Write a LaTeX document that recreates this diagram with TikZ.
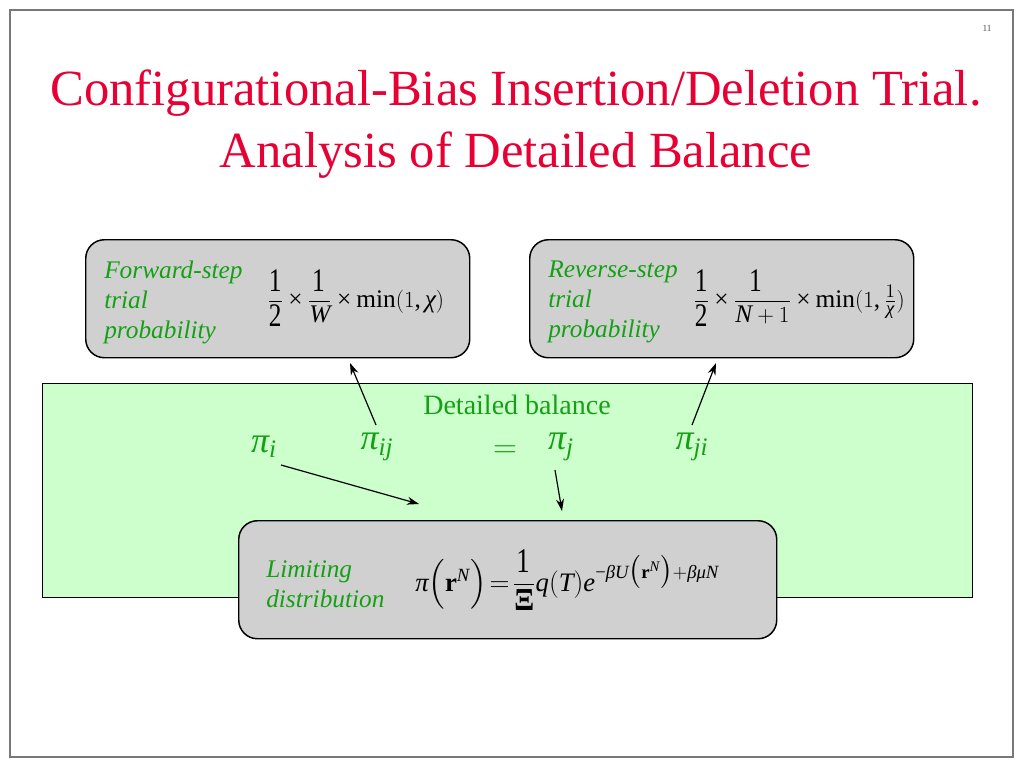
\documentclass[tikz,border=0pt]{standalone}
\usepackage{amsmath}
\usepackage{graphicx}
\usepackage{fontspec}
\setmainfont{Liberation Serif}
\newfontfamily\mtimesfam{Liberation Serif}[NFSSFamily=mtimes]
\DeclareSymbolFont{timesit}{TU}{mtimes}{m}{it}
\DeclareSymbolFont{timesrm}{TU}{mtimes}{m}{n}
\DeclareMathSizes{19}{19}{14}{11}
\DeclareMathSizes{20}{20}{14}{11}
\makeatletter
\count@=`a
\loop \Umathcode\count@="7 \symtimesit \count@ \ifnum\count@<`z \advance\count@ 1 \repeat
\count@=`A
\loop \Umathcode\count@="7 \symtimesit \count@ \ifnum\count@<`Z \advance\count@ 1 \repeat
\count@=`0
\loop \Umathcode\count@="7 \symtimesrm \count@ \ifnum\count@<`9 \advance\count@ 1 \repeat
\makeatother
\Umathcode`(="4 \symtimesrm `(
\Umathcode`)="5 \symtimesrm `)
\Umathcode`,="6 \symtimesrm `,
\Umathcode`=="3 \symtimesrm `=
\Umathcode`+="2 \symtimesrm `+
\Umathcode`-="2 \symtimesrm "2212
\Umathchardef\times="2 \symtimesrm "00D7
\Umathchardef\pi="0 \symtimesit "03C0
\Umathchardef\chi="0 \symtimesit "03C7
\Umathchardef\beta="0 \symtimesit "03B2
\Umathchardef\mu="0 \symtimesit "03BC
\newcommand{\tallnum}[1]{\scalebox{1}[1.3]{#1}}
\newcommand{\boldXi}{\scalebox{1.1}[1.2]{\bfseries Ξ}}
\usetikzlibrary{arrows.meta}
\definecolor{titlered}{RGB}{232,0,52}
\definecolor{lblgreen}{RGB}{20,160,20}
\definecolor{boxgray}{RGB}{208,208,208}
\definecolor{lightgreen}{RGB}{204,255,204}
\definecolor{framegray}{RGB}{120,120,120}
\tikzset{
  graybox/.style={draw=black, line width=1.1pt, fill=boxgray, rounded corners=14pt},
  lbl/.style={text=lblgreen, font=\fontsize{19}{22.5}\selectfont\itshape, align=left, anchor=west, inner sep=0pt},
  formula/.style={font=\fontsize{19}{22}\selectfont, anchor=west, inner sep=0pt},
  bigformula/.style={font=\fontsize{20}{23}\selectfont, anchor=west, inner sep=0pt},
  pisym/.style={text=lblgreen, font=\fontsize{27}{30}\selectfont, inner sep=2pt},
  arr/.style={-{Stealth[length=9pt,width=6pt]}, line width=0.9pt},
  titletext/.style={text=titlered, font=\fontsize{38}{44}\selectfont}
}
\begin{document}
\begin{tikzpicture}[x=0.75pt,y=-0.75pt]
\useasboundingbox (0,0) rectangle (1024,768);
\fill[white] (0,0) rectangle (1024,768);
\draw[framegray, line width=1.2pt] (10,10) rectangle (1013,757);
\node[font=\fontsize{7}{8}\selectfont, text=framegray!70!black] (pgnum) at (987,28) {11};
\node[titletext] (title1) at (516,93) {Configurational-Bias Insertion/Deletion Trial.};
\node[titletext] (title2) at (516,155) {Analysis of Detailed Balance};
% green detailed balance area
\node[draw=black, line width=0.9pt, fill=lightgreen, minimum width=930*0.75pt, minimum height=214*0.75pt, anchor=north west, inner sep=0pt] (db) at (42,383) {};
\node[text=lblgreen, font=\fontsize{21}{24}\selectfont] (dbtitle) at (517,405) {Detailed balance};
% boxes
\node[graybox, minimum width=384*0.75pt, minimum height=118*0.75pt, anchor=north west, inner sep=0pt] (fwd) at (85,239) {};
\node[graybox, minimum width=384*0.75pt, minimum height=118*0.75pt, anchor=north west, inner sep=0pt] (rev) at (529,239) {};
\node[graybox, minimum width=538*0.75pt, minimum height=118*0.75pt, anchor=north west, inner sep=0pt] (lim) at (238,520) {};
% box texts
\node[lbl] (fwdlbl) at (104,302) {Forward-step\\trial\\probability};
\node[formula] (fwdf) at (267,298) {$\dfrac{\tallnum{1}}{\tallnum{2}}\times\dfrac{\tallnum{1}}{W}\times\min(1,\chi)$};
\node[lbl] (revlbl) at (548,302) {Reverse-step\\trial\\probability};
\node[formula] (revf) at (693,298) {$\dfrac{\tallnum{1}}{\tallnum{2}}\times\dfrac{\tallnum{1}}{N+1}\times\min(1,\tfrac{1}{\chi})$};
\node[lbl] (limlbl) at (266,584) {Limiting\\distribution};
\node[bigformula] (limf) at (415,580) {$\pi\Bigl(\mathbf{r}^{N}\Bigr)\mkern-3mu=\mkern-3mu\dfrac{\tallnum{1}}{\boldXi}q(T)e^{-\beta U\bigl(\mathbf{r}^{N}\bigr)+\beta\mu N}$};
% pi symbols
\node[pisym] (pii) at (264,447) {$\pi_i$};
\node[pisym] (piij) at (377,447) {$\pi_{ij}$};
\node[pisym] (eq) at (505,452) {$=$};
\node[pisym] (pij) at (561,447) {$\pi_j$};
\node[pisym] (piji) at (692,447) {$\pi_{ji}$};
% arrow targets
\coordinate (fwdin) at (350,363);
\coordinate (revin) at (716,363);
\coordinate (limin1) at (419,504);
\coordinate (limin2) at (562,511);
\coordinate (piijout) at (376,425);
\coordinate (pijiout) at (692,425);
\coordinate (piiout) at (281,465);
\coordinate (pijout) at (555,470);
\draw[arr] (piijout) -- (fwdin);
\draw[arr] (pijiout) -- (revin);
\draw[arr] (piiout) -- (limin1);
\draw[arr] (pijout) -- (limin2);
\end{tikzpicture}
\end{document}
